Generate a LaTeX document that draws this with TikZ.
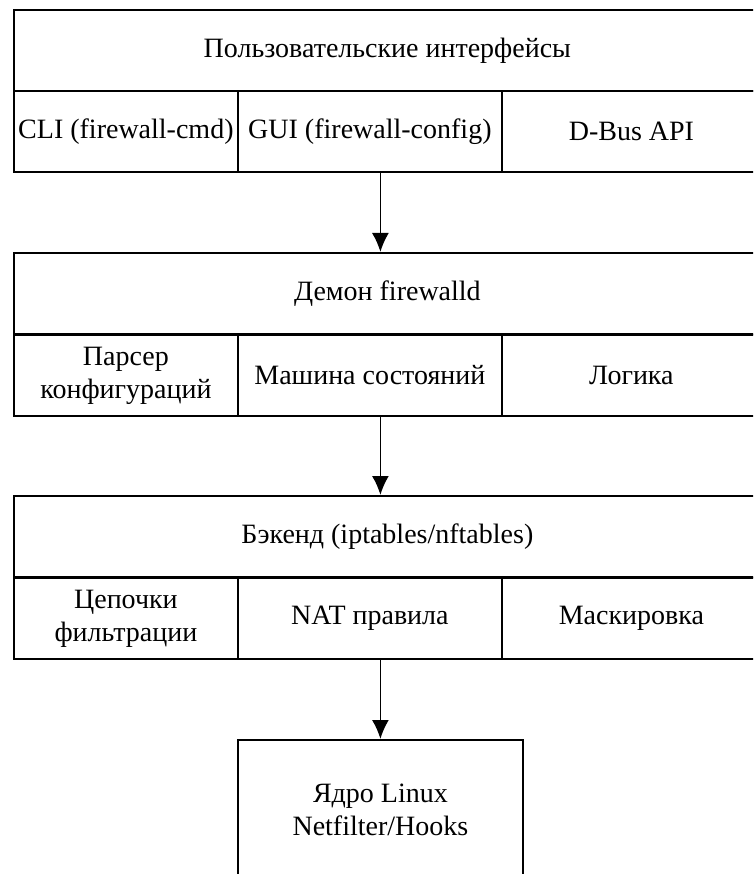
\documentclass[tikz,border=0pt]{standalone}
\usepackage{fontspec}
\setmainfont{Liberation Serif}
\usetikzlibrary{arrows.meta}
\tikzset{head/.style = {shape=rectangle,draw,line width=1.8pt,anchor=north west,minimum width=747pt,minimum height=81pt,inner sep=0pt}}
\tikzset{cell/.style = {shape=rectangle,draw,line width=1.8pt,anchor=north west,minimum height=81pt,inner sep=0pt,align=center}}
\tikzset{edge/.style = {-{Latex[length=19pt,width=17pt]},line width=1.8pt}}

\begin{document}
\begin{tikzpicture}[x=1pt,y=-1pt,font=\fontsize{28}{33}\selectfont]
  \clip (0,0) rectangle (753,874);
  % user interfaces
  \node[head] (ui) at (13,9) {Пользовательские интерфейсы};
  \node[cell,minimum width=224pt] (cli) at (13,90) {CLI (firewall-cmd)};
  \node[cell,minimum width=264pt] (gui) at (237,90) {GUI (firewall-config)};
  \node[cell,minimum width=259pt] (dbus) at (501,90) {D-Bus API};
  % daemon
  \node[head] (daemon) at (13,252) {Демон firewalld};
  \node[cell,minimum width=224pt] (parser) at (13,334) {Парсер\\конфигураций};
  \node[cell,minimum width=264pt] (state) at (237,334) {Машина состояний};
  \node[cell,minimum width=259pt] (logic) at (501,334) {Логика};
  % backend
  \node[head] (backend) at (13,495) {Бэкенд (iptables/nftables)};
  \node[cell,minimum width=224pt] (chains) at (13,577) {Цепочки\\фильтрации};
  \node[cell,minimum width=264pt] (nat) at (237,577) {NAT правила};
  \node[cell,minimum width=259pt] (masq) at (501,577) {Маскировка};
  % kernel
  \node[cell,minimum width=285pt,minimum height=140pt] (kernel) at (237,739) {Ядро Linux\\Netfilter/Hooks};

  \path[edge] (gui.south -| kernel.north) edge (daemon.north -| kernel.north);
  \path[edge] (state.south -| kernel.north) edge (backend.north -| kernel.north);
  \path[edge] (nat.south -| kernel.north) edge (kernel.north);
\end{tikzpicture}
\end{document}
